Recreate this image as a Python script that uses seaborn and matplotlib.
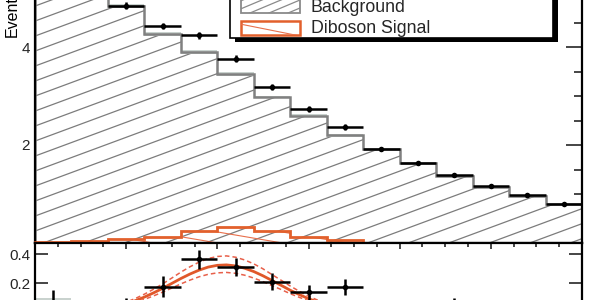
import numpy as np
import pandas as pd
import matplotlib
matplotlib.use("Agg")
import matplotlib.pyplot as plt
import seaborn as sns
from matplotlib.patches import Rectangle
from matplotlib.lines import Line2D
from matplotlib.transforms import IdentityTransform
from matplotlib.ticker import MultipleLocator, NullFormatter

# ---------------- data ----------------
bin_edges = [0, 10, 20, 30, 40, 50, 60, 70, 80, 90, 100, 110, 120, 130, 140, 150]
data_vals = [5.90, 5.35, 4.84, 4.43, 4.24, 3.76, 3.18, 2.73, 2.37, 1.92, 1.63, 1.39, 1.16, 0.98, 0.80]
data_errs = [0.08, 0.08, 0.07, 0.07, 0.075, 0.07, 0.06, 0.06, 0.055, 0.045, 0.04, 0.04, 0.035, 0.035, 0.03]
bkg_vals = [5.88, 5.36, 4.83, 4.27, 3.89, 3.45, 2.98, 2.60, 2.20, 1.92, 1.63, 1.37, 1.15, 0.95, 0.80]
bkg_errs = [0.05, 0.05, 0.04, 0.04, 0.04, 0.04, 0.03, 0.03, 0.03, 0.025, 0.02, 0.02, 0.02, 0.02, 0.02]
sig_vals = [0.03, 0.05, 0.075, 0.13, 0.245, 0.33, 0.25, 0.125, 0.06, 0.0, 0.0, 0.0, 0.0, 0.0, 0.0]

diff_vals = [0.04, -0.05, 0.01, 0.175, 0.363, 0.31, 0.21, 0.136, 0.17, -0.02, -0.05, 0.03, 0.0, -0.04, -0.08]
diff_errs = [0.11, 0.08, 0.085, 0.07, 0.063, 0.063, 0.06, 0.05, 0.055, 0.07, 0.07, 0.07, 0.07, 0.07, 0.07]
diff_band = [0.095, 0.06, 0.05, 0.05, 0.05, 0.05, 0.05, 0.05, 0.05, 0.05, 0.05, 0.05, 0.05, 0.06, 0.06]

fit_x = [0, 10, 15, 17.5, 20, 22.5, 25, 27.5, 30, 32.5, 35, 37.5, 40, 42.5, 45, 47.5, 50, 52.5,
         55, 57.5, 60, 62.5, 65, 67.5, 70, 72.5, 75, 77.5, 80, 85, 90, 100, 110, 150]
fit_y = [0.0005, 0.005, 0.0125, 0.019, 0.028, 0.041, 0.057, 0.078, 0.103, 0.132, 0.163, 0.197,
         0.231, 0.262, 0.289, 0.310, 0.322, 0.325, 0.318, 0.302, 0.279, 0.250, 0.217, 0.184,
         0.150, 0.120, 0.092, 0.069, 0.050, 0.024, 0.010, 0.002, 0.0, 0.0]
fit_up = [0.0006, 0.006, 0.015, 0.023, 0.033, 0.049, 0.068, 0.093, 0.123, 0.157, 0.194, 0.234,
          0.275, 0.312, 0.344, 0.369, 0.383, 0.387, 0.378, 0.359, 0.332, 0.298, 0.258, 0.219,
          0.179, 0.143, 0.109, 0.082, 0.060, 0.029, 0.012, 0.002, 0.0, 0.0]
fit_dn = [0.0004, 0.004, 0.0105, 0.016, 0.024, 0.034, 0.048, 0.066, 0.087, 0.111, 0.137, 0.165,
          0.194, 0.220, 0.243, 0.260, 0.270, 0.273, 0.267, 0.254, 0.234, 0.210, 0.182, 0.155,
          0.126, 0.101, 0.077, 0.058, 0.042, 0.020, 0.008, 0.002, 0.0, 0.0]

legend_labels = ["Data", "Background", "Diboson Signal"]
y_label = "Events"

# ---------------- style ----------------
sns.set_theme(style="white")
plt.rcParams["font.family"] = ["Liberation Sans", "DejaVu Sans"]

ORANGE = "#e2602c"
GRAY = "#808080"
BAND = "#c9d2ce"

W, H = 600, 300
fig = plt.figure(figsize=(6, 3), dpi=100)
fig.patch.set_facecolor("white")

edges = np.array(bin_edges, dtype=float)
centers = 0.5 * (edges[:-1] + edges[1:])
widths = np.diff(edges)

df = pd.DataFrame({"x": centers, "data": data_vals, "derr": data_errs,
                   "bkg": bkg_vals, "berr": bkg_errs, "sig": sig_vals,
                   "diff": diff_vals, "dferr": diff_errs, "dband": diff_band})
fit = pd.DataFrame({"x": fit_x, "y": fit_y, "up": fit_up, "dn": fit_dn})


def add_hatch(container, clip, slope, spacing, color, lw, zorder, phase=0.0):
    span = abs(slope) * W
    c = -span - 40 + phase
    while c < H + span + 40:
        ln = Line2D([0, W], [c, c + slope * W], transform=IdentityTransform(),
                    color=color, lw=lw, zorder=zorder)
        container.add_artist(ln)
        ln.set_clip_path(clip)
        c += spacing


# ---------------- main panel ----------------
ax = fig.add_axes([35 / W, 57 / H, 547 / W, 6.2 * 49 / H])
ax.set_xlim(0, 150)
ax.set_ylim(0, 6.2)
ax.set_facecolor("none")

bkg_fill = ax.stairs(df["bkg"], edges, fill=True, facecolor="white", edgecolor="none", zorder=1)
add_hatch(ax, bkg_fill, 0.37, 15.0, "#7c7c7c", 0.9, 1.1, phase=3)
ax.bar(df["x"], 2 * df["berr"], bottom=df["bkg"] - df["berr"], width=widths,
       color=BAND, edgecolor="none", zorder=1.5)
ax.stairs(df["bkg"], edges, color=GRAY, lw=1.8, zorder=1.6)

sig_fill = ax.stairs(df["sig"], edges, fill=True, facecolor="none", edgecolor="none", zorder=1.7)
add_hatch(ax, sig_fill, -0.17, 11.0, "#e8704c", 0.8, 1.7, phase=5)
sig_line = ax.stairs(df["sig"], edges, color=ORANGE, lw=2.0, zorder=2.8)
sig_line.set_clip_on(False)

ax.errorbar(df["x"], df["data"], xerr=widths / 2, yerr=df["derr"], fmt="none",
            ecolor="black", elinewidth=1.8, capsize=0, zorder=3)
sns.scatterplot(data=df, x="x", y="data", ax=ax, color="black", s=16,
                edgecolor="black", linewidth=0, zorder=4, legend=False)

ax.xaxis.set_major_locator(MultipleLocator(25))
ax.xaxis.set_minor_locator(MultipleLocator(6.25))
ax.yaxis.set_minor_locator(MultipleLocator(0.5))
ax.xaxis.set_major_formatter(NullFormatter())
ax.set_yticks([2, 4, 6])
ax.set_yticklabels(["2", "4", "6"])
ax.tick_params(axis="y", which="major", direction="in", length=11.5, width=1.2,
               left=True, right=True, labelsize=11, pad=3.5)
ax.tick_params(axis="y", which="minor", direction="in", length=5.8, width=1.2,
               left=True, right=True)
ax.tick_params(axis="x", which="major", direction="in", length=5.8, width=1.2,
               bottom=True, top=True)
ax.tick_params(axis="x", which="minor", direction="in", length=2.9, width=1.2,
               bottom=True, top=True)
for s in ax.spines.values():
    s.set_linewidth(1.6)
    s.set_color("black")
ax.set_xlabel("")
ax.set_ylabel("")

# ---------------- lower panel (data - background) ----------------
ax2 = fig.add_axes([35 / W, -55.5 / H, 547 / W, 112.5 / H])
ax2.set_xlim(0, 150)
ax2.set_ylim(-0.3, 0.476)
ax2.set_facecolor("white")

ax2.bar(df["x"], 2 * df["dband"], bottom=-df["dband"], width=widths,
        color=BAND, edgecolor="none", zorder=1)
sns.lineplot(data=fit, x="x", y="up", ax=ax2, color="#e8604a", lw=1.1,
             dashes=(3, 2), sort=False, zorder=2)
sns.lineplot(data=fit, x="x", y="dn", ax=ax2, color="#e8604a", lw=1.1,
             dashes=(3, 2), sort=False, zorder=2)
sns.lineplot(data=fit, x="x", y="y", ax=ax2, color="#e0582a", lw=2.0,
             sort=False, zorder=2.5)
ax2.errorbar(df["x"], df["diff"], xerr=widths / 2, yerr=df["dferr"], fmt="none",
             ecolor="black", elinewidth=1.8, capsize=0, zorder=3)
sns.scatterplot(data=df, x="x", y="diff", ax=ax2, color="black", s=16,
                edgecolor="black", linewidth=0, zorder=4, legend=False)

ax2.set_yticks([-0.2, 0.0, 0.2, 0.4])
ax2.set_yticklabels(["-0.2", "0", "0.2", "0.4"])
ax2.xaxis.set_major_locator(MultipleLocator(25))
ax2.xaxis.set_minor_locator(MultipleLocator(6.25))
ax2.xaxis.set_major_formatter(NullFormatter())
ax2.tick_params(axis="y", which="major", direction="in", length=9.4, width=1.2,
                left=True, right=True, labelsize=11, pad=3.5)
ax2.tick_params(axis="x", which="major", direction="in", length=4.5, width=1.2,
                bottom=True, top=True)
ax2.tick_params(axis="x", which="minor", direction="in", length=2.9, width=1.2,
                bottom=True, top=True)
for s in ax2.spines.values():
    s.set_linewidth(1.6)
    s.set_color("black")
ax2.set_xlabel("")
ax2.set_ylabel("")

# ---------------- y label ----------------
fig.text(12 / W, 1 - 36.7 / H, y_label, rotation=90, ha="center", va="bottom",
         fontsize=11.5, color="black")

# ---------------- legend (ROOT style box with solid shadow) ----------------
T = IdentityTransform()
lx0, lx1 = 230, 553
ly_top, ly_bot = -40, 37.7
fig.add_artist(Rectangle((lx0 + 5, H - ly_bot - 4), lx1 - lx0, ly_bot - ly_top,
                         transform=T, facecolor="black", edgecolor="none", zorder=10))
fig.add_artist(Rectangle((lx0, H - ly_bot), lx1 - lx0, ly_bot - ly_top,
                         transform=T, facecolor="white", edgecolor="black", lw=1.2, zorder=11))

# Background swatch
sw_bg = Rectangle((241, H - 13), 59, 14, transform=T, facecolor="white",
                  edgecolor="#8a8a8a", lw=1.3, zorder=12)
fig.add_artist(sw_bg)
add_hatch(fig, sw_bg, 0.42, 8.0, "#8a8a8a", 0.9, 12.5, phase=2)
fig.text(311, H - 11.7, legend_labels[1], transform=T, fontsize=12.8,
         va="baseline", ha="left", zorder=13)

# Diboson swatch
sw_sig = Rectangle((241, H - 35), 59, 14.3, transform=T, facecolor="white",
                   edgecolor=ORANGE, lw=1.8, zorder=12)
fig.add_artist(sw_sig)
add_hatch(fig, sw_sig, -0.2, 22.0, "#e8704c", 0.8, 12.5, phase=0)
fig.text(311, H - 33.3, legend_labels[2], transform=T, fontsize=12.8,
         va="baseline", ha="left", zorder=13)

# Data entry (above the visible area)
fig.text(311, H + 10, legend_labels[0], transform=T, fontsize=12.8,
         va="baseline", ha="left", zorder=13)

fig.savefig("out.png", dpi=100, facecolor="white")
